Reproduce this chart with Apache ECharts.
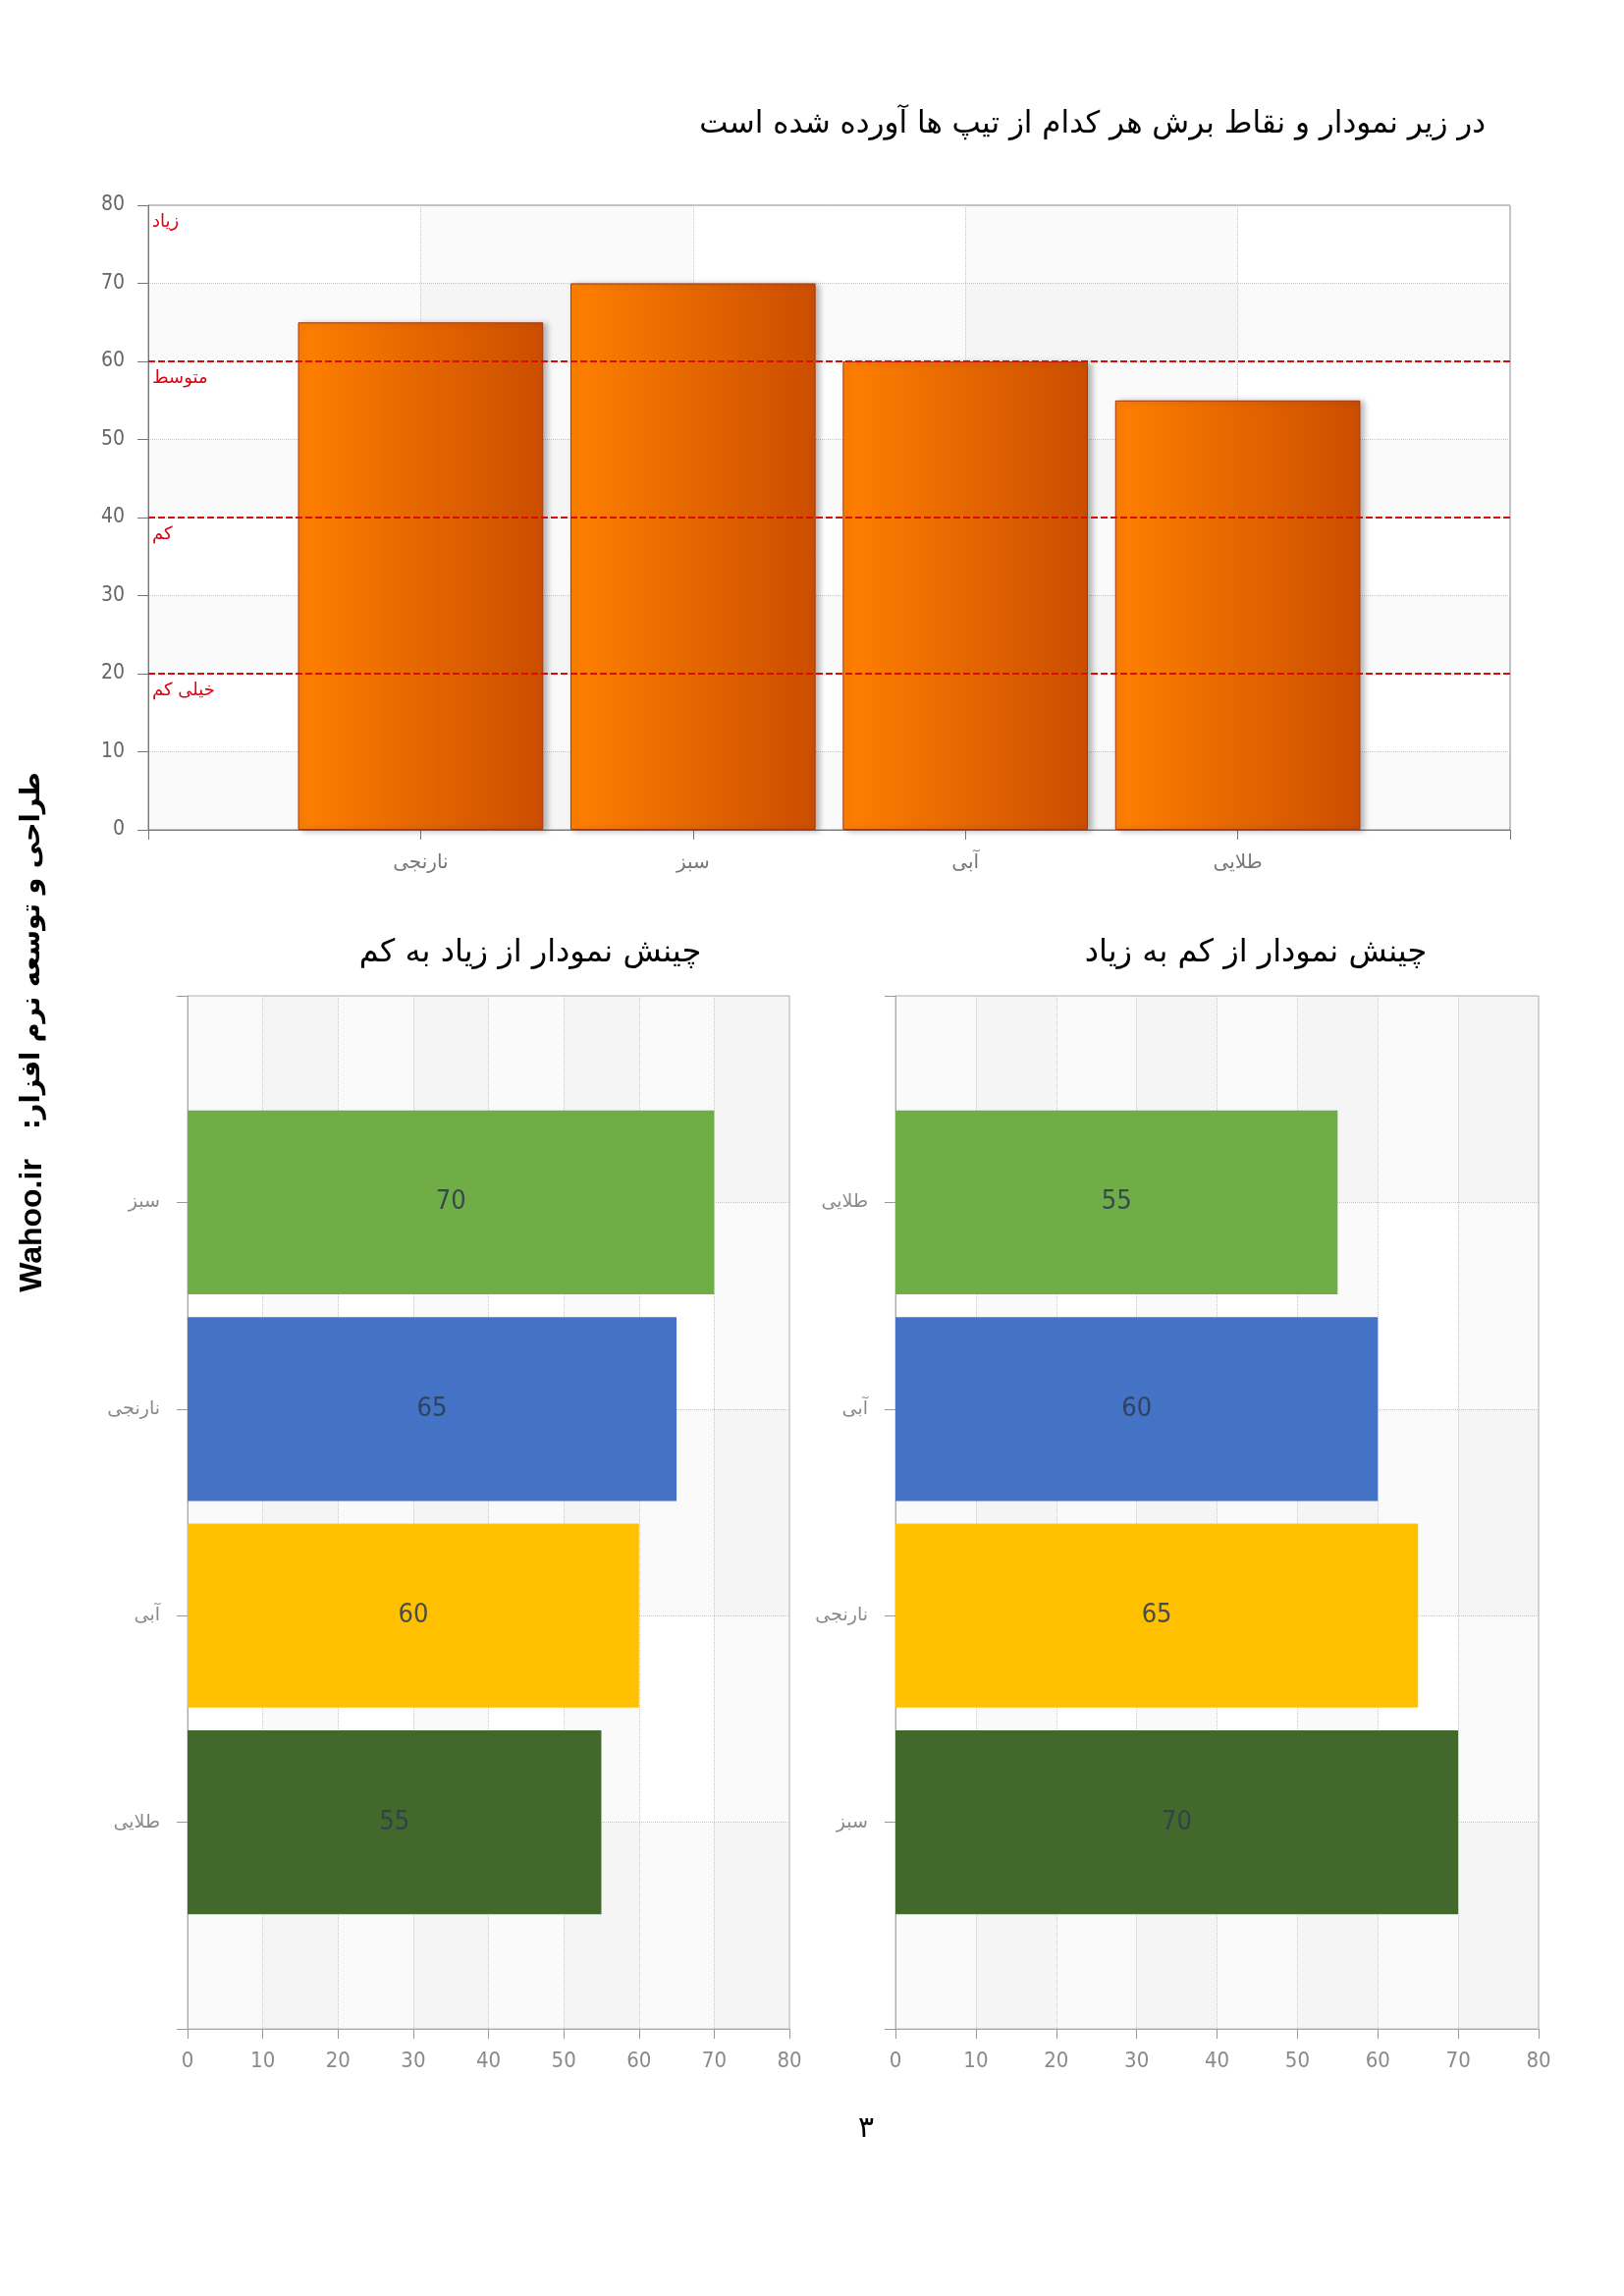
<!DOCTYPE html>
<html>
<head>
<meta charset="utf-8">
<script src="https://cdn.jsdelivr.net/npm/echarts@6/dist/echarts.min.js"></script>
<style>
html,body{margin:0;padding:0;background:#fff;}
#main{width:1654px;height:2338px;}
</style>
</head>
<body>
<div id="main"></div>
<script>
// ---- data ----
const topCategories = ['نارنجی', 'سبز', 'آبی', 'طلایی'];
const topValues = [65, 70, 60, 55];
const thresholdValues = [20, 40, 60, 80];
const thresholdLabels = ['خیلی کم', 'کم', 'متوسط', 'زیاد'];
const descCategories = ['سبز', 'نارنجی', 'آبی', 'طلایی'];
const descValues = [70, 65, 60, 55];
const ascCategories = ['طلایی', 'آبی', 'نارنجی', 'سبز'];
const ascValues = [55, 60, 65, 70];

const mainTitle = 'در زیر نمودار و نقاط برش هر کدام از تیپ ها آورده شده است';
const descTitle = 'چینش نمودار از زیاد به کم';
const ascTitle = 'چینش نمودار از کم به زیاد';
const sideText = 'طراحی و توسعه نرم افزار:';
const siteText = 'Wahoo.ir';
const pageNumber = '٣';

// ---- styles ----
const barPalette = ['#70ad47', '#4472c4', '#ffc000', '#43682b'];
const numFont = "'Liberation Sans Narrow','DejaVu Sans Condensed','Liberation Sans',sans-serif";
const faFont = "'DejaVu Sans',sans-serif";

const pad = arr => [''].concat(arr, ['']);
const padData = arr => ['-'].concat(arr, ['-']);

const chart = echarts.init(document.getElementById('main'));

const dotted = {show: true, lineStyle: {type: 'dotted', color: '#c8c8c8', width: 1}};
const greyArea = 'rgba(0,0,0,0.02)';

function hBarAxisY(gridIndex, cats) {
  return {
    type: 'category', gridIndex: gridIndex, data: pad(cats), boundaryGap: false, inverse: true,
    axisLine: {lineStyle: {color: '#aaa'}},
    axisTick: {show: true, length: 11, lineStyle: {color: '#999'}},
    axisLabel: {color: '#8a8a8a', fontSize: 19, fontFamily: faFont, margin: 28},
    splitLine: dotted,
    splitArea: {show: true, areaStyle: {color: [greyArea, 'rgba(0,0,0,0)']}}
  };
}
function hBarAxisX(gridIndex) {
  return {
    type: 'value', gridIndex: gridIndex, min: 0, max: 80, interval: 10,
    axisLine: {show: true, lineStyle: {color: '#aaa'}},
    axisTick: {show: true, length: 10, lineStyle: {color: '#999'}},
    axisLabel: {color: '#8a8a8a', fontSize: 22, fontFamily: numFont, margin: 22},
    splitLine: dotted,
    splitArea: {show: true, areaStyle: {color: ['rgba(0,0,0,0)', greyArea]}}
  };
}
function hBarSeries(idx, vals) {
  return {
    type: 'bar', xAxisIndex: idx, yAxisIndex: idx, data: padData(vals), barWidth: '89%',
    itemStyle: {color: p => barPalette[(p.dataIndex - 1) % barPalette.length]},
    label: {show: true, position: 'inside', color: 'rgba(45,60,80,0.88)', fontSize: 27, fontFamily: numFont},
    silent: true
  };
}

const option = {
  backgroundColor: '#ffffff',
  animation: false,
  title: [
    {text: mainTitle, right: 136, top: 106, textStyle: {fontFamily: faFont, fontSize: 31, fontWeight: 'normal', color: '#000'}},
    {text: descTitle, left: 535, top: 950, textAlign: 'center', textStyle: {fontFamily: faFont, fontSize: 32, fontWeight: 'normal', color: '#000'}},
    {text: ascTitle, left: 1274, top: 950, textAlign: 'center', textStyle: {fontFamily: faFont, fontSize: 32, fontWeight: 'normal', color: '#000'}}
  ],
  graphic: [
    {type: 'text', x: 33, y: 968, rotation: Math.PI / 2,
     style: {text: sideText + '\u200F', fontFamily: faFont, fontSize: 27, fontWeight: 'bold', fill: '#000', align: 'center', verticalAlign: 'middle'}},
    {type: 'text', x: 33, y: 1248, rotation: Math.PI / 2,
     style: {text: siteText, fontFamily: "'Liberation Sans',Arial,sans-serif", fontSize: 32, fontWeight: 'bold', fill: '#000', align: 'center', verticalAlign: 'middle'}},
    {type: 'text', x: 882, y: 2168,
     style: {text: pageNumber, fontFamily: faFont, fontSize: 30, fill: '#000', align: 'center', verticalAlign: 'middle'}}
  ],
  grid: [
    {left: 151, top: 209, width: 1387, height: 636, show: true, borderColor: '#888', borderWidth: 1, backgroundColor: 'transparent'},
    {left: 191, top: 1014, width: 613, height: 1052, show: true, borderColor: '#bbb', borderWidth: 1, backgroundColor: 'transparent'},
    {left: 912, top: 1014, width: 655, height: 1052, show: true, borderColor: '#bbb', borderWidth: 1, backgroundColor: 'transparent'}
  ],
  xAxis: [
    {
      type: 'category', gridIndex: 0, data: pad(topCategories), boundaryGap: false,
      axisLine: {lineStyle: {color: '#777'}},
      axisTick: {show: true, length: 10, lineStyle: {color: '#777'}},
      axisLabel: {color: '#777', fontSize: 20, fontFamily: faFont, margin: 24},
      splitLine: dotted,
      splitArea: {show: true, areaStyle: {color: ['rgba(0,0,0,0)', greyArea]}}
    },
    hBarAxisX(1),
    hBarAxisX(2)
  ],
  yAxis: [
    {
      type: 'value', gridIndex: 0, min: 0, max: 80, interval: 10,
      axisLine: {show: true, lineStyle: {color: '#777'}},
      axisTick: {show: true, length: 11, lineStyle: {color: '#777'}},
      axisLabel: {color: '#666', fontSize: 21, fontFamily: numFont, margin: 24},
      splitLine: dotted,
      splitArea: {show: true, areaStyle: {color: [greyArea, 'rgba(0,0,0,0)']}}
    },
    hBarAxisY(1, descCategories),
    hBarAxisY(2, ascCategories)
  ],
  series: [
    {
      type: 'bar', xAxisIndex: 0, yAxisIndex: 0, data: padData(topValues), barWidth: '90%',
      silent: true,
      itemStyle: {
        color: new echarts.graphic.LinearGradient(0, 0, 1, 0, [
          {offset: 0, color: '#ff8000'},
          {offset: 1, color: '#cb4d00'}
        ]),
        borderColor: '#a5360c', borderWidth: 1,
        shadowColor: 'rgba(0,0,0,0.28)', shadowBlur: 6, shadowOffsetX: 4, shadowOffsetY: 1
      },
      markLine: {
        silent: true, symbol: ['none', 'none'],
        lineStyle: {type: [7, 3], color: '#dd0a0a', width: 2},
        label: {show: true, position: 'insideStartBottom', formatter: '{b}', color: '#e00010', fontSize: 18, fontFamily: faFont, distance: [4, 8]},
        data: thresholdValues.map((v, i) => {
          const d = {yAxis: v, name: thresholdLabels[i]};
          if (v === 80) d.lineStyle = {color: 'rgba(0,0,0,0)'};
          return d;
        })
      }
    },
    hBarSeries(1, descValues),
    hBarSeries(2, ascValues)
  ]
};
chart.setOption(option);
</script>
</body>
</html>
